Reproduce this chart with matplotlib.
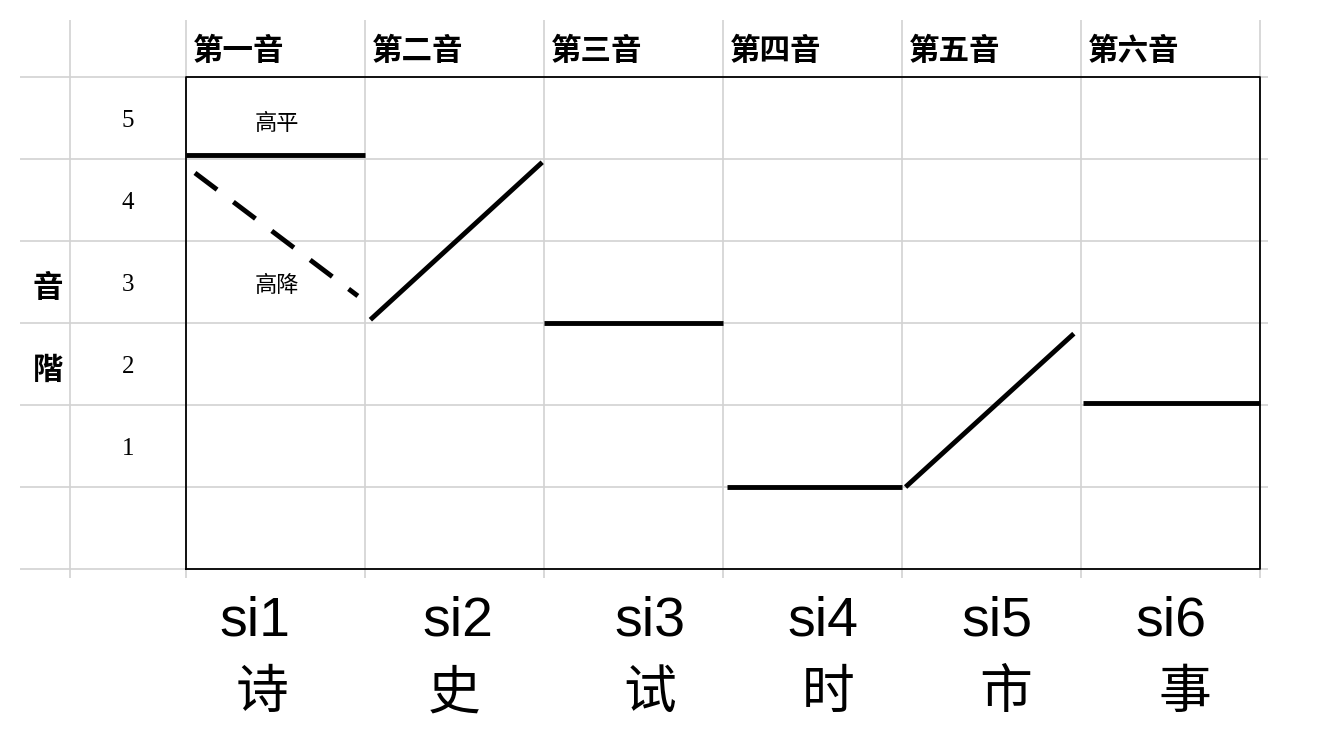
import matplotlib
matplotlib.use("Agg")
import matplotlib.pyplot as plt

plt.rcParams['font.family'] = ['Noto Sans CJK SC', 'DejaVu Sans']

# data
tone_names = ['第一音', '第二音', '第三音', '第四音', '第五音', '第六音']
levels = ['5', '4', '3', '2', '1']
syllables = ['si1', 'si2', 'si3', 'si4', 'si5', 'si6']
chars = ['诗', '史', '试', '时', '市', '事']

# pitch contours (column units on x, pitch on y)
tone_x0 = [0.0, 1.03, 2.0, 3.02, 4.02, 5.01]
tone_x1 = [1.0, 1.99, 3.0, 4.0, 4.96, 6.0]
tone_y0 = [5.05, 3.04, 3.0, 1.0, 1.0, 2.02]
tone_y1 = [5.05, 4.96, 3.0, 1.0, 2.87, 2.02]
fall_x = [0.05, 0.96]
fall_y = [4.83, 3.33]
notes = ['高平', '高降']
note_y = [5.43, 3.46]

# label placement
syl_x = [0.385, 1.52, 2.59, 3.56, 4.53, 5.5]
char_x = [0.425, 1.50, 2.59, 3.59, 4.58, 5.58]

fig = plt.figure(figsize=(13.22, 7.5), dpi=100)
ax = fig.add_axes([0, 0, 1, 1])
ax.set_xlim((0 - 186) / 179, (1322 - 186) / 179)
ax.set_ylim((569 - 750) / 82, 569 / 82)
ax.axis('off')

grid_c = '#d2d2d2'
ncol = len(tone_names)
nrow = len(levels) + 1

# spreadsheet grid
ax.hlines(range(nrow + 1), -0.927, 6.045, color=grid_c, lw=1.2, zorder=1)
ax.vlines([-0.648] + list(range(ncol + 1)), -0.11, 6.70, color=grid_c, lw=1.2, zorder=1)
ax.plot([0, ncol, ncol, 0, 0], [0, 0, nrow, nrow, 0], color='black', lw=1.3, zorder=2)

# headers
for i, name in enumerate(tone_names):
    ax.text(i + 0.04, 6.32, name, fontsize=22, fontweight='bold', ha='left', va='center')

for j, lv in enumerate(levels):
    ax.text(-0.324, 5.46 - j, lv, fontsize=18, family='Liberation Serif', ha='center', va='center')

ax.text(-0.771, 3.43, '音', fontsize=22, fontweight='bold', ha='center', va='center')
ax.text(-0.771, 2.43, '階', fontsize=22, fontweight='bold', ha='center', va='center')

for t, y in zip(notes, note_y):
    ax.text(0.508, y, t, fontsize=16, ha='center', va='center')

# contours
for x0, x1, y0, y1 in zip(tone_x0, tone_x1, tone_y0, tone_y1):
    ax.plot([x0, x1], [y0, y1], color='black', lw=3.5, solid_capstyle='butt', zorder=3)
ax.plot(fall_x, fall_y, color='black', lw=3.5, dashes=(5.7, 4.2), zorder=3)

# bottom labels
for x, s in zip(syl_x, syllables):
    ax.text(x, -0.645, s, fontsize=40, family='Liberation Sans', ha='center', va='center')
for x, c in zip(char_x, chars):
    ax.text(x, -1.51, c, fontsize=38, ha='center', va='center')

fig.savefig('out.png', dpi=100)
